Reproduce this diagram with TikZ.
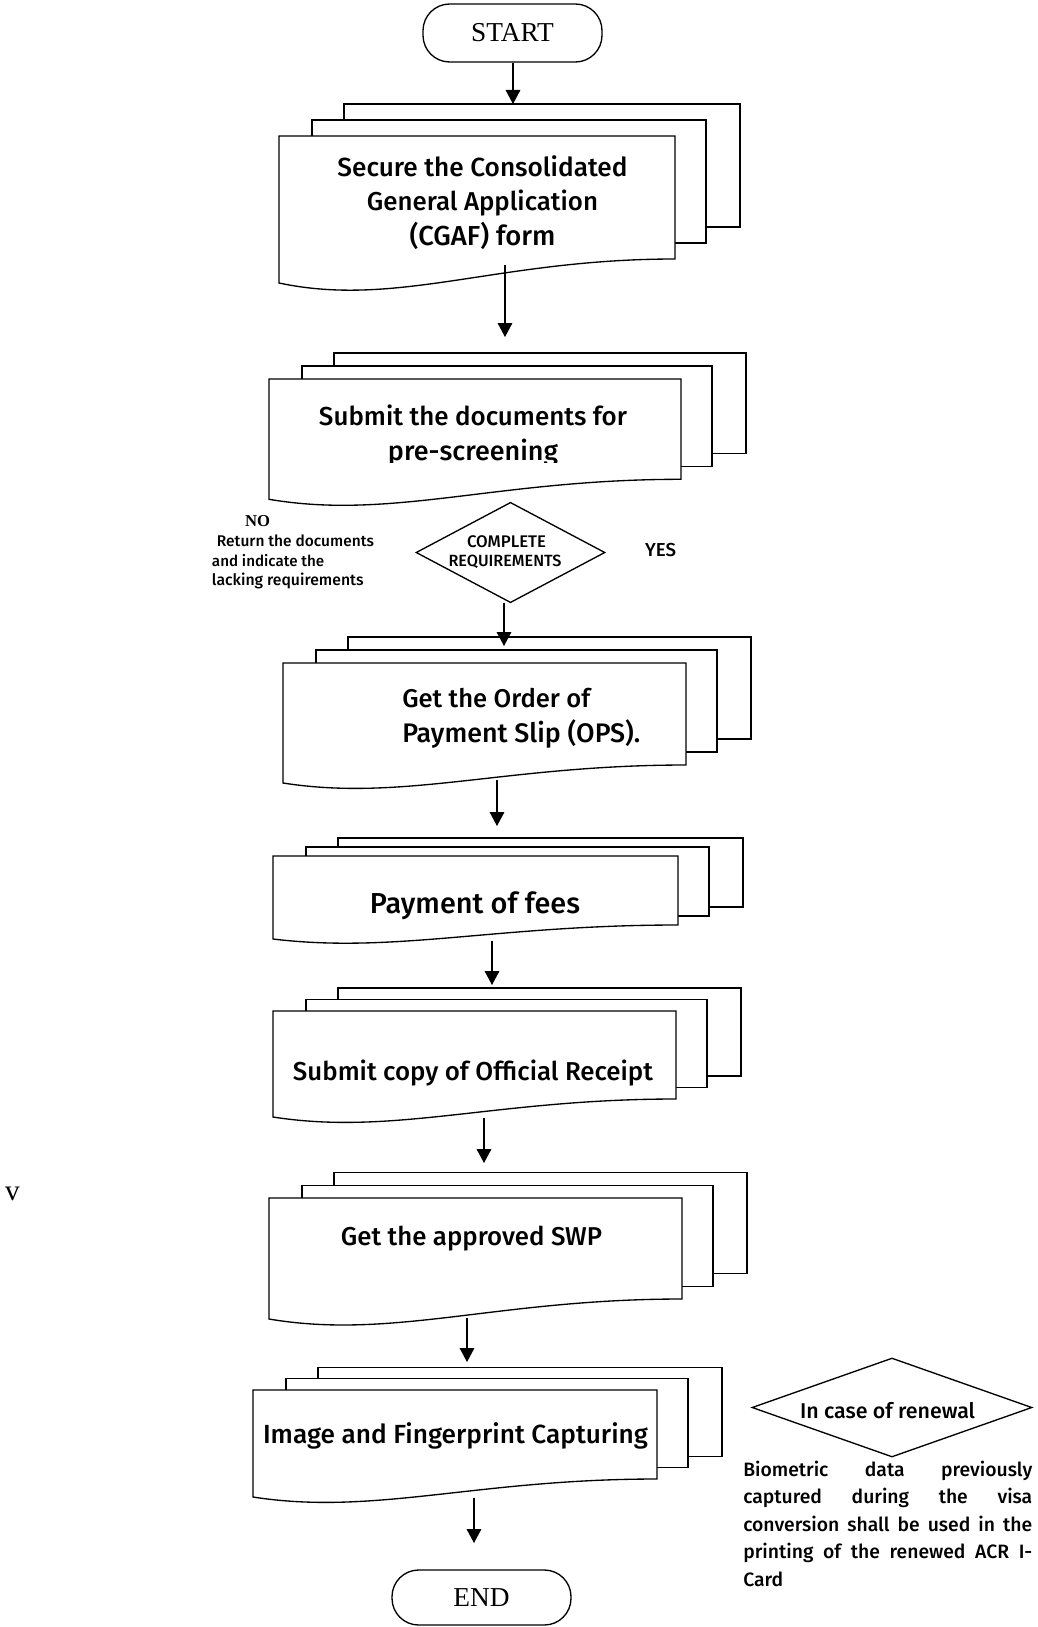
\documentclass[tikz,border=0pt]{standalone}
\usepackage{fontspec}
\usepackage{graphicx}
\usetikzlibrary{arrows.meta,shapes.geometric}
\setmainfont{Liberation Serif}
\newfontfamily\dinf{Fira Sans Medium}
% one drawing unit = one pixel of the layout grid
\newdimen\pxu \pxu=0.75pt
\newcommand\fitl[2]{\resizebox{#1\pxu}{!}{#2}}
\newcommand\clines[2]{\vtop{\baselineskip=#1\pxu\halign{\hfil##\hfil\cr#2\crcr}}}
\newcommand\llines[2]{\vtop{\baselineskip=#1\pxu\halign{##\hfil\cr#2\crcr}}}
% a stack of three sheets: #1 left, #2 top, #3 right, #4 right bottom, #5 left bottom, #6 sheet offset
\newcommand\docstack[6]{%
  \draw[sheet] ({#1+65},{#2-2*#6}) rectangle ({#3+65},{#4-2*#6});
  \draw[sheet] ({#1+33},{#2-#6}) rectangle ({#3+31},{#4-#6});
  \draw[sheet] (#1,#2) -- (#3,#2) -- (#3,#4)
    .. controls ({#1+0.55*(#3-#1)},#4) and ({#1+0.3*(#3-#1)},{#5+1.05*(#5-#4)}) .. (#1,#5) -- cycle;
}
\tikzset{
  sheet/.style={draw, fill=white, line width=1pt, line join=miter},
  term/.style={draw, line width=1pt, rounded corners=20pt, minimum width=134.25pt, inner sep=0pt,
    font=\fontsize{20.5}{23}\selectfont},
  dia/.style={draw, diamond, line width=1pt, inner sep=0pt},
  txt/.style={inner sep=0pt, font=\dinf\fontsize{16}{18}\selectfont},
  arr/.style={line width=0.8pt, -{Triangle[length=10.5pt, width=11pt]}},
}
\begin{document}
\begin{tikzpicture}[x=0.75pt, y=-0.75pt]
\path[fill=white] (0,0) rectangle (1038,1627);
\useasboundingbox (0,0) rectangle (1038,1627);

% terminals
\node[term, minimum height=43.5pt] (start) at (512.5,33) {START};
\node[term, minimum height=41.25pt] (end) at (481.5,1597.5) {END};

% document stacks
\docstack{279}{136}{675}{259}{283}{16}
\docstack{269}{379}{681}{479.3}{499.3}{13}
\docstack{283}{663}{686}{765}{783}{13}
\docstack{273}{856}{678}{925}{939}{9}
\docstack{273}{1011}{676}{1099}{1117}{11.5}
\docstack{269}{1198}{682}{1299}{1319}{12.75}
\docstack{253}{1390}{657}{1479}{1497}{11.25}

% stack texts
\node[txt, anchor=base] (t1) at (482.5,176)
  {\clines{34.5}{\fitl{290}{Secure the Consolidated}\cr\fitl{231}{General Application}\cr\fitl{146}{(CGAF) form}}};
\begin{scope}
  \clip (260,370) rectangle (690,462.7);
  \node[txt, anchor=base] (t2) at (473,425.7)
    {\clines{34.3}{\fitl{308}{Submit the documents for}\cr\fitl{170}{pre-screening}}};
\end{scope}
\node[txt, anchor=base west] (t3) at (402,707)
  {\llines{35}{\fitl{188}{Get the Order of}\cr\fitl{238}{Payment Slip (OPS).}}};
\node[txt, anchor=base] (t4) at (475,913) {\fitl{210}{Payment of fees}};
\node[txt, anchor=base] (t5) at (473,1080) {\fitl{360}{Submit copy of Official Receipt}};
\node[txt, anchor=base] (t6) at (471.5,1245) {\fitl{261}{Get the approved SWP}};
\node[txt, anchor=base] (t7) at (455.5,1443) {\fitl{385}{Image and Fingerprint Capturing}};

% decision
\node[dia, minimum width=141.75pt, minimum height=75.3pt] (dec) at (510.5,552.5) {};
\node[txt, anchor=base] (dectxt) at (505,547.3)
  {\clines{19.4}{\hbox{\kern3\pxu\fitl{79}{COMPLETE}}\cr\fitl{113}{REQUIREMENTS}}};
\node[txt, anchor=base] (yes) at (660.5,556) {\fitl{31}{YES}};
\node[anchor=base, font=\bfseries\fontsize{12.5}{14}\selectfont] (no) at (257.5,526.7) {NO};
\node[txt, anchor=base west] (ret) at (211.7,546.7)
  {\llines{19.5}{\hbox{\kern5\pxu\fitl{157}{Return the documents}}\cr\fitl{112.3}{and indicate the}\cr\fitl{151.6}{lacking requirements}}};

% renewal note
\node[dia, minimum width=210pt, minimum height=74.25pt] (ren) at (892,1407.5) {};
\node[txt, anchor=base] (rentxt) at (887.5,1418) {\fitl{175}{In case of renewal}};
\node[txt, anchor=base west, font=\dinf\fontsize{14.5}{16}\selectfont] (bio) at (743,1476)
  {\llines{27.5}{\makebox[289\pxu][s]{Biometric data previously}\cr
   \makebox[289\pxu][s]{captured during the visa}\cr
   \makebox[289\pxu][s]{conversion shall be used in the}\cr
   \makebox[289\pxu][s]{printing of the renewed ACR I-}\cr
   Card}};

\node[anchor=base, font=\fontsize{22}{24}\selectfont] (vmark) at (12.5,1200) {v};

% connector end points
\coordinate (s1in) at (513,104);
\coordinate (s1out) at (505,265);
\coordinate (s2in) at (505,337);
\coordinate (d1out) at (504,602.7);
\coordinate (s3in) at (504,646);
\coordinate (s3out) at (497,780);
\coordinate (s4in) at (497,826);
\coordinate (s4out) at (492,941);
\coordinate (s5in) at (492,985);
\coordinate (s5out) at (484,1118);
\coordinate (s6in) at (484,1163);
\coordinate (s6out) at (467,1318);
\coordinate (s7in) at (467,1362);
\coordinate (s7out) at (474,1498);
\coordinate (endin) at (474,1543);

% connectors
\draw[arr] (start.south -| s1in) -- (s1in);
\draw[arr] (s1out) -- (s2in);
\draw[arr] (d1out) -- (s3in);
\draw[arr] (s3out) -- (s4in);
\draw[arr] (s4out) -- (s5in);
\draw[arr] (s5out) -- (s6in);
\draw[arr] (s6out) -- (s7in);
\draw[arr] (s7out) -- (endin);
\end{tikzpicture}
\end{document}
